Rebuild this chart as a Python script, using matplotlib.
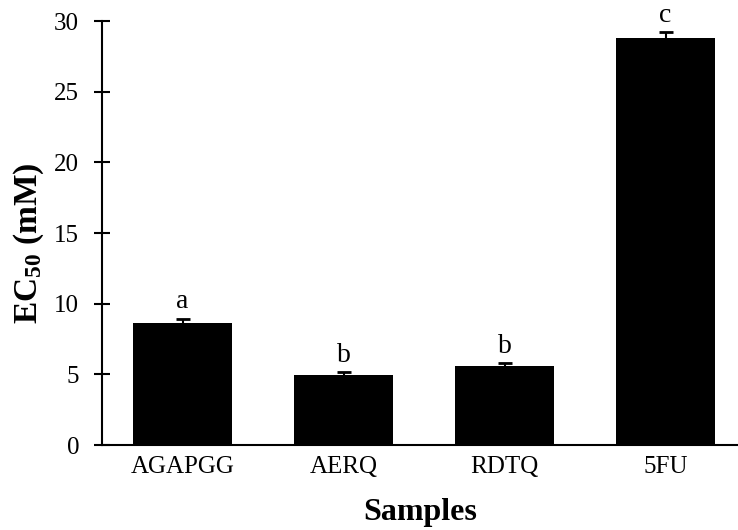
import matplotlib
matplotlib.use('Agg')
import matplotlib.pyplot as plt
import numpy as np

# data
samples = ['AGAPGG', 'AERQ', 'RDTQ', '5FU']
ec50 = [8.6, 4.95, 5.6, 28.8]
err = [0.35, 0.18, 0.18, 0.4]
letters = ['a', 'b', 'b', 'c']

plt.rcParams['font.family'] = ['Liberation Serif', 'DejaVu Serif']
plt.rcParams['mathtext.fontset'] = 'custom'
plt.rcParams['mathtext.rm'] = 'Liberation Serif'
plt.rcParams['mathtext.bf'] = 'Liberation Serif:bold'

fig = plt.figure(figsize=(7.38, 5.30), dpi=100)
ax = fig.add_axes([102 / 738, 85 / 530, 1 - 102 / 738, 424 / 530])

x = np.arange(len(samples))
ax.bar(x, ec50, width=0.61, color='black', yerr=err,
       error_kw=dict(ecolor='black', elinewidth=1.5, capsize=5, capthick=2))

for xi, v, e, l in zip(x, ec50, err, letters):
    ax.text(xi, v + e + 0.3, l, ha='center', va='bottom', fontsize=20)

ax.set_xlim(-0.5, 3.45)
ax.set_ylim(0, 30)
ax.set_yticks(range(0, 31, 5))
ax.set_xticks(x)
ax.set_xticklabels(samples)

ax.spines['top'].set_visible(False)
ax.spines['right'].set_visible(False)
ax.spines['left'].set_linewidth(1.5)
ax.spines['bottom'].set_linewidth(1.5)
ax.tick_params(axis='y', direction='inout', length=11, width=1.5, labelsize=18, pad=11)
ax.tick_params(axis='x', length=0, labelsize=18, pad=8)

ax.set_ylabel('EC$\\mathbf{_{50}}$ (mM)', fontsize=24, fontweight='bold')
ax.yaxis.set_label_coords(-0.088, 0.475)
ax.set_xlabel('Samples', fontsize=23, fontweight='bold', labelpad=14)

fig.savefig('out.png', dpi=100)
